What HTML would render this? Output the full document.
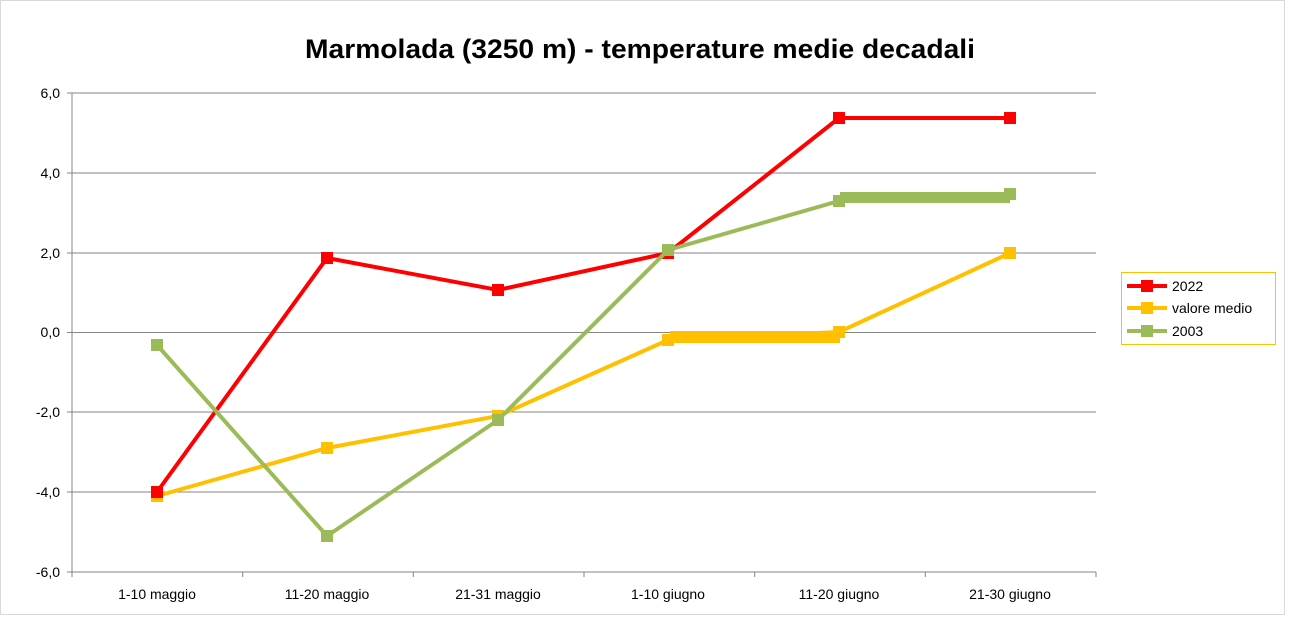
<!DOCTYPE html>
<html><head><style>
body{margin:0;background:#fff;}
svg{display:block;font-family:"Liberation Sans",Calibri,sans-serif;}
</style></head><body>
<svg width="1291" height="618" viewBox="0 0 1291 618">
<rect x="0.5" y="0.5" width="1284" height="614" fill="#fff" stroke="#d9d9d9"/>
<text x="305" y="58" textLength="670" lengthAdjust="spacingAndGlyphs" font-size="27" font-weight="bold" fill="#000">Marmolada (3250 m) - temperature medie decadali</text>
<g stroke="#868686" stroke-width="1">
<line x1="72" y1="93" x2="1096" y2="93"/>
<line x1="72" y1="173" x2="1096" y2="173"/>
<line x1="72" y1="253" x2="1096" y2="253"/>
<line x1="72" y1="332.5" x2="1096" y2="332.5"/>
<line x1="72" y1="412" x2="1096" y2="412"/>
<line x1="72" y1="492" x2="1096" y2="492"/>
<line x1="72" y1="572" x2="1096" y2="572"/>
<line x1="72" y1="93" x2="72" y2="577"/>
<line x1="67" y1="93" x2="72" y2="93"/><line x1="67" y1="173" x2="72" y2="173"/><line x1="67" y1="253" x2="72" y2="253"/><line x1="67" y1="332.5" x2="72" y2="332.5"/><line x1="67" y1="412" x2="72" y2="412"/><line x1="67" y1="492" x2="72" y2="492"/><line x1="67" y1="572" x2="72" y2="572"/>
<line x1="242.7" y1="572" x2="242.7" y2="577"/><line x1="413.3" y1="572" x2="413.3" y2="577"/><line x1="584" y1="572" x2="584" y2="577"/><line x1="754.7" y1="572" x2="754.7" y2="577"/><line x1="925.3" y1="572" x2="925.3" y2="577"/><line x1="1096" y1="572" x2="1096" y2="577"/>
</g>
<g font-size="14" fill="#000" text-anchor="end">
<text x="60" y="98">6,0</text><text x="60" y="178">4,0</text><text x="60" y="258">2,0</text><text x="60" y="337">0,0</text><text x="60" y="417">-2,0</text><text x="60" y="497">-4,0</text><text x="60" y="577">-6,0</text>
</g>
<g font-size="14" fill="#000" text-anchor="middle">
<text x="157" y="599">1-10 maggio</text><text x="327" y="599">11-20 maggio</text><text x="498" y="599">21-31 maggio</text><text x="668" y="599">1-10 giugno</text><text x="839" y="599">11-20 giugno</text><text x="1010" y="599">21-30 giugno</text>
</g>
<polyline fill="none" stroke="#ffc000" stroke-width="4" points="157,496 327,448 498,416 668,340 839,332 1010,253"/>
<rect x="670" y="331" width="170" height="12" fill="#ffc000"/>
<g fill="#ffc000"><rect x="151" y="490" width="12" height="12"/><rect x="321" y="442" width="12" height="12"/><rect x="492" y="410" width="12" height="12"/><rect x="662" y="334" width="12" height="12"/><rect x="833" y="326" width="12" height="12"/><rect x="1004" y="247" width="12" height="12"/></g>
<polyline fill="none" stroke="#ff0000" stroke-width="4" points="157,492 327,258 498,290 668,253 839,118 1010,118"/>
<g fill="#ff0000"><rect x="151" y="486" width="12" height="12"/><rect x="321" y="252" width="12" height="12"/><rect x="492" y="284" width="12" height="12"/><rect x="662" y="247" width="12" height="12"/><rect x="833" y="112" width="12" height="12"/><rect x="1004" y="112" width="12" height="12"/></g>
<polyline fill="none" stroke="#9bbb59" stroke-width="4" points="157,345 327,536 498,420 668,250 839,201 1010,194"/>
<rect x="840" y="192" width="170" height="11" fill="#9bbb59"/>
<g fill="#9bbb59"><rect x="151" y="339" width="12" height="12"/><rect x="321" y="530" width="12" height="12"/><rect x="492" y="414" width="12" height="12"/><rect x="662" y="244" width="12" height="12"/><rect x="833" y="195" width="12" height="12"/><rect x="1004" y="188" width="12" height="12"/></g>
<rect x="1121.5" y="272.5" width="154" height="72" fill="#fff" stroke="#ffc000"/>
<line x1="1127" y1="286" x2="1167" y2="286" stroke="#ff0000" stroke-width="4"/><rect x="1141" y="280" width="12" height="12" fill="#ff0000"/>
<line x1="1127" y1="308" x2="1167" y2="308" stroke="#ffc000" stroke-width="4"/><rect x="1141" y="302" width="12" height="12" fill="#ffc000"/>
<line x1="1127" y1="331" x2="1167" y2="331" stroke="#9bbb59" stroke-width="4"/><rect x="1141" y="325" width="12" height="12" fill="#9bbb59"/>
<g font-size="14" fill="#000"><text x="1172" y="291">2022</text><text x="1172" y="313">valore medio</text><text x="1172" y="336">2003</text></g>
</svg>
</body></html>
